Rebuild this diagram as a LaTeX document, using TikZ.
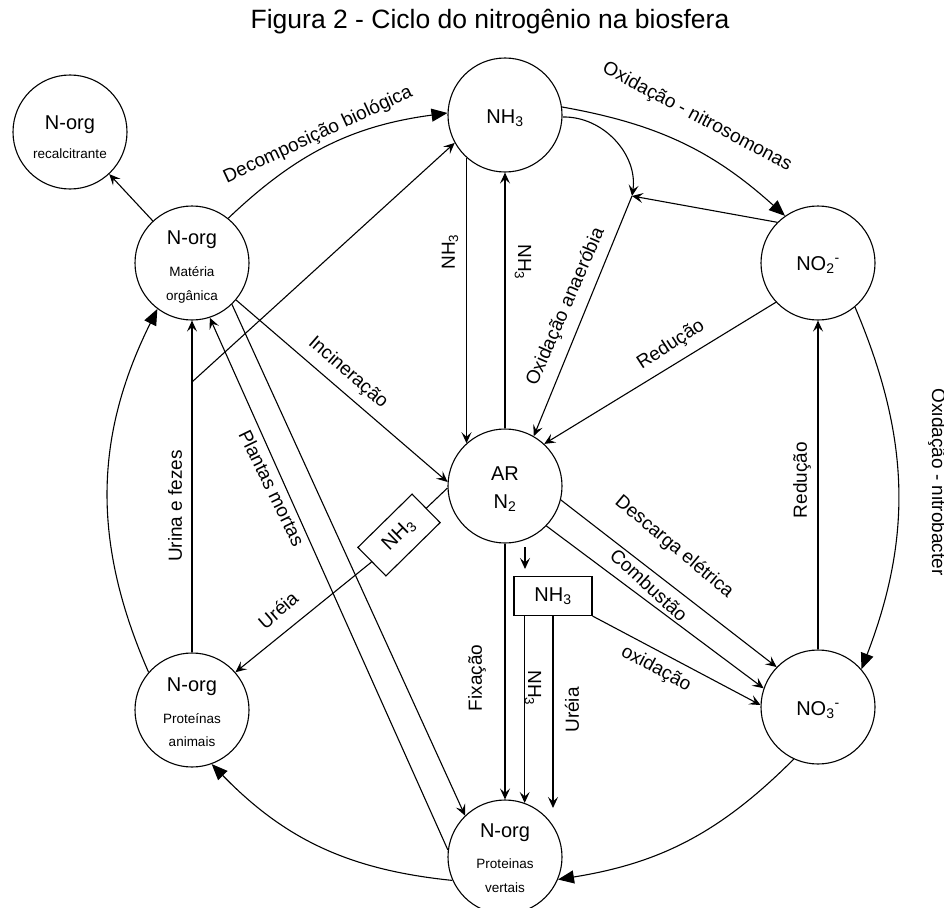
\documentclass[tikz,border=0pt]{standalone}
\usepackage{fontspec}
\setmainfont{Liberation Sans}
\usetikzlibrary{arrows.meta,calc}
\begin{document}
\begin{tikzpicture}[x=1pt,y=-1pt]
\tikzset{
 circ/.style={circle, draw, line width=1.1pt, minimum size=114pt, inner sep=0pt},
 big/.style={font=\fontsize{20}{22}\selectfont, inner sep=0pt},
 small/.style={font=\fontsize{13.5}{15}\selectfont, inner sep=0pt},
 lbl/.style={font=\fontsize{19}{21}\selectfont, inner sep=0pt},
 ln/.style={line width=1.1pt},
 arr/.style={ln, -{Stealth[length=11pt,width=10pt,inset=4.5pt]}},
 tri/.style={ln, -{Triangle[length=16pt,width=13pt]}},
 boxn/.style={draw, line width=1.1pt, minimum width=78pt, minimum height=39pt, inner sep=0pt, font=\fontsize{20}{22}\selectfont}
}
\useasboundingbox (0,0) rectangle (944,907);
\node[inner sep=0pt, font=\fontsize{26.5}{30}\selectfont] (title) at (490,22) {Figura 2 - Ciclo do nitrogênio na biosfera};

\node[circ] (rec) at (70,132) {};
\node[big] (rect1) at (70,125) {N-org};
\node[small] (rect2) at (70,154) {recalcitrante};

\node[circ] (mat) at (192,263) {};
\node[big] (matt1) at (192,240) {N-org};
\node[small] (matt2) at (192,272) {Matéria};
\node[small] (matt3) at (192,297) {orgânica};

\node[circ] (nh3) at (505,115) {};
\node[big] (nh3t) at (505,118) {NH\textsubscript{3}};

\node[circ] (no2) at (818,263) {};
\node[big] (no2t) at (818,265) {NO\textsubscript{2}\textsuperscript{-}};

\node[circ] (ar) at (505,486) {};
\node[big] (art1) at (505,474) {AR};
\node[big] (art2) at (505,503) {N\textsubscript{2}};

\node[circ] (no3) at (818,707) {};
\node[big] (no3t) at (818,710) {NO\textsubscript{3}\textsuperscript{-}};

\node[circ] (ani) at (192,710) {};
\node[big] (anit1) at (192,687) {N-org};
\node[small] (anit2) at (192,719) {Proteínas};
\node[small] (anit3) at (192,742) {animais};

\node[circ] (ver) at (505,857) {};
\node[big] (vert1) at (505,833) {N-org};
\node[small] (vert2) at (505,864) {Proteinas};
\node[small] (vert3) at (505,888) {vertais};

\node[boxn] (boxb) at (553,596) {NH\textsubscript{3}};
\node[boxn, minimum width=76pt, minimum height=40pt, rotate=44.5] (boxl) at (399,535) {NH\textsubscript{3}};

% connectors
\draw[arr] (mat) -- (rec);
\draw[tri] (mat.51) to[bend left=18] (nh3.178);
\draw[arr] (ani.90) -- (mat.-90);
\coordinate (u) at (192,382);
\draw[arr] (u) -- (nh3.209);
\draw[arr] (ver.173) -- (mat.-72);
\draw[arr] (mat.-46) -- (ver.134);
\draw[arr] (mat.-40) -- (ar.176);
\draw[arr] (nh3.228) -- (ar.132);
\draw[arr] (ar.90) -- (nh3.-90);
\coordinate (J) at (632,196);
\draw[arr] (nh3.-2) to[bend left=50] (J);
\draw[arr] (no2.135) -- (J);
\draw[arr] (J) -- (ar.60);
\draw[tri] (nh3.8) to[bend left=16] (no2.125);
\draw[arr] (no2.-137) -- (ar.47);
\draw[arr] (no3.90) -- (no2.-90);
\draw[tri] (no2.-50) to[bend left=22] (no3.41);
\draw[arr] (ar.-14) -- (no3.136);
\draw[arr] (ar.-44) -- (no3.161);
\draw[arr] (boxb.south east) -- (no3.178);
\coordinate (a1) at (525,547);
\coordinate (a2) at (525,569);
\draw[arr] (a1) -- (a2);
\draw[arr] (ar.-90) -- (ver.90);
\draw[arr] (boxb.south -| ver.70) -- (ver.70);
\coordinate (ue) at (553,808);
\draw[arr] (boxb.south -| ue) -- (ue);
\draw[ln] (ar.-178) -- (boxl.east);
\draw[arr] (boxl.west) -- (ani.41);
\draw[tri] (no3.-115) to[bend left=18] (ver.-23);
\draw[tri] (ver.-156) to[bend left=20] (ani.-70);
\draw[tri] (ani.139) to[bend left=25] (mat.-127);

% labels
\node[lbl, rotate=25] (l1) at (318,135) {Decomposição biológica};
\node[lbl, rotate=-28] (l2) at (697,117) {Oxidação - nitrosomonas};
\node[lbl, rotate=66.5] (l3) at (566,307) {Oxidação anaeróbia};
\node[lbl, rotate=90] (l4) at (450,252) {NH\textsubscript{3}};
\node[lbl, rotate=-90] (l5) at (523,262) {NH\textsubscript{3}};
\node[lbl, rotate=33] (l6) at (671,345) {Redução};
\node[lbl, rotate=90] (l7) at (802,480) {Redução};
\node[lbl, rotate=-90] (l8) at (937,482) {Oxidação - nitrobacter};
\node[lbl, rotate=-41] (l9) at (348,373) {Incineração};
\node[lbl, rotate=-64] (l10) at (272,488) {Plantas mortas};
\node[lbl, rotate=90] (l11) at (175,506) {Urina e fezes};
\node[lbl, rotate=41] (l12) at (278,610) {Uréia};
\node[lbl, rotate=-40] (l13) at (674,547) {Descarga elétrica};
\node[lbl, rotate=-42.6] (l14) at (649,585) {Combustão};
\node[lbl, rotate=-28] (l15) at (656,669) {oxidação};
\node[lbl, rotate=90] (l16) at (477,678) {Fixação};
\node[lbl, rotate=-90] (l17) at (533,688) {NH\textsubscript{3}};
\node[lbl, rotate=90] (l18) at (572,710) {Uréia};
\end{tikzpicture}
\end{document}
